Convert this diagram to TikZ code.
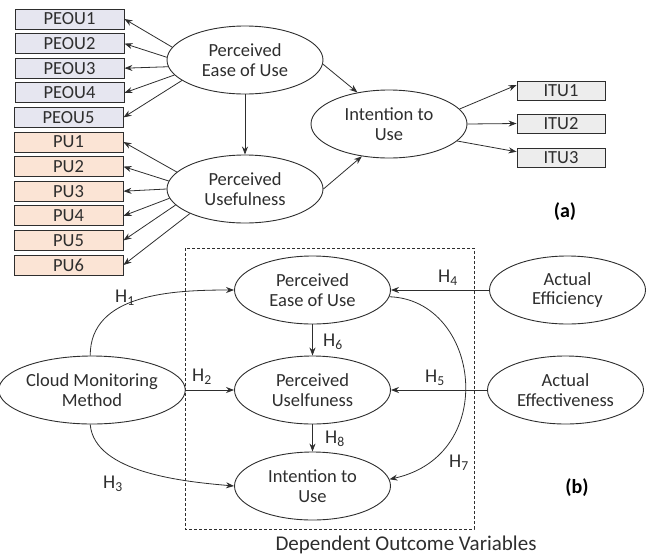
\documentclass[tikz,border=0pt]{standalone}
\usepackage{fontspec}
\setmainfont{Carlito}
\usetikzlibrary{shapes.geometric,arrows.meta}
\definecolor{peoufill}{HTML}{E6E6F0}
\definecolor{pufill}{HTML}{FBE4D5}
\definecolor{itufill}{HTML}{EDEDED}
\definecolor{linec}{HTML}{2E2E2E}
\begin{document}
\begin{tikzpicture}[x=1pt,y=-1pt,
  font=\fontsize{18.5}{19.5}\selectfont,
  lat/.style={ellipse,draw=linec,line width=0.9pt,minimum width=156pt,minimum height=68pt,inner sep=0pt,align=center,text=linec},
  ind/.style={rectangle,draw=linec,line width=0.9pt,minimum width=109pt,minimum height=20pt,inner sep=0pt,text=linec},
  itubox/.style={ind,fill=itufill,minimum width=88pt,minimum height=19pt},
  arr/.style={-{Stealth[length=8pt,width=6pt]},line width=0.8pt,draw=linec},
  hlab/.style={text=linec,inner sep=0pt,font=\fontsize{19.5}{20}\selectfont},
  plab/.style={font=\fontsize{20}{20}\selectfont\bfseries,text=black,inner sep=0pt}
]
\useasboundingbox (0,0) rectangle (655,555);

% ---------- (a) ----------
\node[lat] (peou) at (245,60) {Perceived\\Ease of Use};
\node[lat] (pu) at (245,189) {Perceived\\Usefulness};
\node[lat] (itua) at (389,124) {Intention to\\Use};

\node[ind,fill=peoufill] (p1) at (69.5,19) {PEOU1};
\node[ind,fill=peoufill] (p2) at (69.5,43.6) {PEOU2};
\node[ind,fill=peoufill] (p3) at (69.5,68.2) {PEOU3};
\node[ind,fill=peoufill] (p4) at (69.5,92.8) {PEOU4};
\node[ind,fill=peoufill] (p5) at (68.5,117.4) {PEOU5};
\node[ind,fill=pufill] (u1) at (68.5,142) {PU1};
\node[ind,fill=pufill] (u2) at (68.5,166.6) {PU2};
\node[ind,fill=pufill] (u3) at (68.5,191.2) {PU3};
\node[ind,fill=pufill] (u4) at (68.5,215.8) {PU4};
\node[ind,fill=pufill] (u5) at (68.5,240.4) {PU5};
\node[ind,fill=pufill] (u6) at (68.5,265) {PU6};

\node[itubox] (i1) at (561,90.5) {ITU1};
\node[itubox] (i2) at (561,123.5) {ITU2};
\node[itubox] (i3) at (561,158) {ITU3};

\draw[arr] (peou.170) -- (p1.east);
\draw[arr] (peou.178) -- (p2.east);
\draw[arr] (peou.185) -- (p3.east);
\draw[arr] (peou.192) -- (p4.east);
\draw[arr] (peou.198) -- (p5.east);

\draw[arr] (pu.166) -- (u1.east);
\draw[arr] (pu.174) -- (u2.east);
\draw[arr] (pu.180) -- (u3.east);
\draw[arr] (pu.187) -- (u4.east);
\draw[arr] (pu.193) -- (u5.east);
\draw[arr] (pu.204) -- (u6.east);

\draw[arr] (peou) -- (pu);
\draw[arr] (peou.-3) -- (itua.135);
\draw[arr] (pu.0) -- (itua.230);

\draw[arr] (itua.12) -- (i1.173);
\draw[arr] (itua.east) -- (i2.west);
\draw[arr] (itua.-14) -- (i3.172);

\node[plab] (la) at (565,212) {(a)};

% ---------- (b) ----------
\draw[linec,line width=0.8pt,dash pattern=on 3pt off 2pt] (185,248) rectangle (474,529);
\node[text=linec,font=\fontsize{21}{22}\selectfont] (dov) at (406,545) {Dependent Outcome Variables};

\node[lat] (peoub) at (312.5,290) {Perceived\\Ease of Use};
\node[lat] (pub) at (312.5,390) {Perceived\\Uselfuness};
\node[lat] (itub) at (312.5,486) {Intention to\\Use};
\node[lat] (cloud) at (92,390) {Cloud Monitoring\\Method};
\node[lat] (eff) at (567.5,290) {Actual\\Efficiency};
\node[lat] (effe) at (565.5,390) {Actual\\Effectiveness};

\draw[arr] (cloud.93) to[out=90,in=180] (peoub.west);
\draw[arr] (cloud) -- (pub);
\draw[arr] (cloud.-93) to[out=-85,in=175,looseness=0.8] (itub.west);
\draw[arr] (eff) -- (peoub);
\draw[arr] (effe) -- (pub);
\draw[arr] (peoub) -- (pub);
\draw[arr] (pub) -- (itub);
\draw[arr] (peoub.-5) .. controls (480,300) and (500,455) .. (itub.5);

\node[hlab] (h1) at (125,298) {H\textsubscript{1}};
\node[hlab] (h2) at (202,377) {H\textsubscript{2}};
\node[hlab] (h3) at (113,484) {H\textsubscript{3}};
\node[hlab] (h4) at (448,278) {H\textsubscript{4}};
\node[hlab] (h5) at (435,378) {H\textsubscript{5}};
\node[hlab] (h6) at (333,342) {H\textsubscript{6}};
\node[hlab] (h7) at (459,463) {H\textsubscript{7}};
\node[hlab] (h8) at (335,439) {H\textsubscript{8}};

\node[plab] (lb) at (577,488) {(b)};
\end{tikzpicture}
\end{document}
